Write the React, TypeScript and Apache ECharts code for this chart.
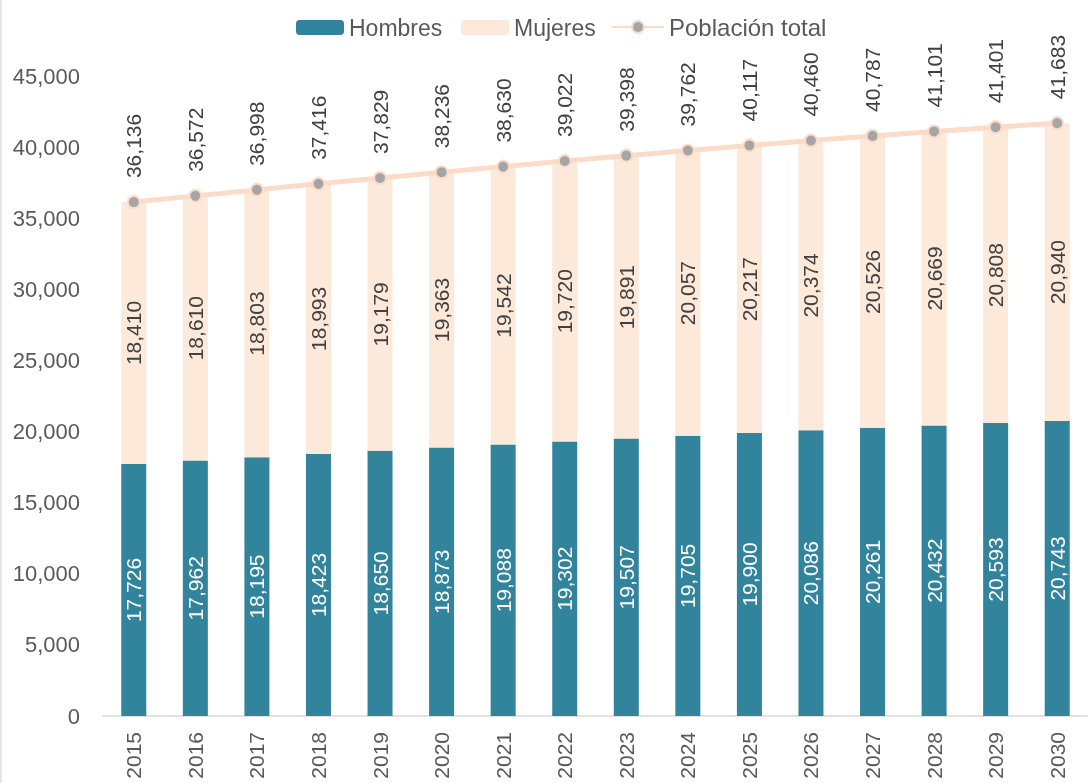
import React, { useEffect, useRef } from "react";
import * as echarts from "echarts";

const years = ["2015","2016","2017","2018","2019","2020","2021","2022","2023","2024","2025","2026","2027","2028","2029","2030"];
const hombres = [17726,17962,18195,18423,18650,18873,19088,19302,19507,19705,19900,20086,20261,20432,20593,20743];
const mujeres = [18410,18610,18803,18993,19179,19363,19542,19720,19891,20057,20217,20374,20526,20669,20808,20940];
const total = [36136,36572,36998,37416,37829,38236,38630,39022,39398,39762,40117,40460,40787,41101,41401,41683];

const FONT = "'Liberation Sans Narrow', 'Arial Narrow', 'Liberation Sans', sans-serif";
const fmt = (v: number) => v.toLocaleString("en-US");

export default function App() {
  const ref = useRef<HTMLDivElement>(null);
  useEffect(() => {
    if (!ref.current) return;
    const chart = echarts.init(ref.current, undefined, { renderer: "svg" });
    const legendText = { fontFamily: FONT, fontSize: 23, color: "#595959" };
    chart.setOption({
      animation: false,
      textStyle: { fontFamily: FONT },
      legend: [
        { top: 11, left: 291, itemWidth: 48, itemHeight: 15, itemGap: 0, textStyle: legendText, data: ["Hombres"] },
        { top: 11, left: 456, itemWidth: 48, itemHeight: 15, itemGap: 0, textStyle: legendText, data: ["Mujeres"] },
        { top: 10, left: 606, itemWidth: 52, itemHeight: 15, itemGap: 0, textStyle: { ...legendText, fontSize: 24 }, data: ["Población total"] },
      ],
      graphic: [
        { type: "rect", left: 0, top: 0, shape: { x: 0, y: 0, width: 2, height: 783 }, style: { fill: "#E6E6E6" } },
      ],
      grid: { left: 103, top: 76, width: 990, bottom: 67, containLabel: false },
      xAxis: {
        type: "category",
        data: years,
        axisLine: { lineStyle: { color: "#D9D9D9", width: 1.5 } },
        axisTick: { show: false },
        axisLabel: { rotate: 90, fontFamily: FONT, fontSize: 21, color: "#595959", margin: 16 },
      },
      yAxis: {
        type: "value",
        min: 0,
        max: 45000,
        interval: 5000,
        axisLine: { show: false },
        axisTick: { show: false },
        splitLine: { show: false },
        axisLabel: { fontFamily: FONT, fontSize: 22, color: "#595959", margin: 23, formatter: (v: number) => fmt(v) },
      },
      series: [
        {
          name: "Hombres",
          type: "bar",
          stack: "p",
          data: hombres,
          barWidth: 25,
          itemStyle: { color: "#31849B" },
          label: {
            show: true,
            position: "inside",
            rotate: 90,
            color: "#FFFFFF",
            fontFamily: FONT,
            fontSize: 21,
            formatter: (p: any) => fmt(p.value),
          },
        },
        {
          name: "Mujeres",
          type: "bar",
          stack: "p",
          data: mujeres,
          barWidth: 25,
          itemStyle: { color: "#FDE9D9" },
          label: {
            show: true,
            position: "inside",
            rotate: 90,
            color: "#404040",
            fontFamily: FONT,
            fontSize: 21,
            formatter: (p: any) => fmt(p.value),
          },
        },
        {
          name: "Población total",
          type: "line",
          data: total,
          symbol: "circle",
          symbolSize: 12,
          lineStyle: { color: "#FCDCC8", width: 5 },
          itemStyle: { color: "#A5A5A5", borderColor: "#FCDCC8", borderWidth: 2 },
          label: {
            show: true,
            position: "top",
            rotate: 90,
            align: "left",
            verticalAlign: "middle",
            distance: 17,
            color: "#404040",
            fontFamily: FONT,
            fontSize: 21,
            formatter: (p: any) => fmt(p.value),
          },
          z: 5,
        },
      ],
    });
    return () => chart.dispose();
  }, []);
  return <div ref={ref} style={{ position: "fixed", left: 0, top: 0, width: 1088, height: 783 }} />;
}
